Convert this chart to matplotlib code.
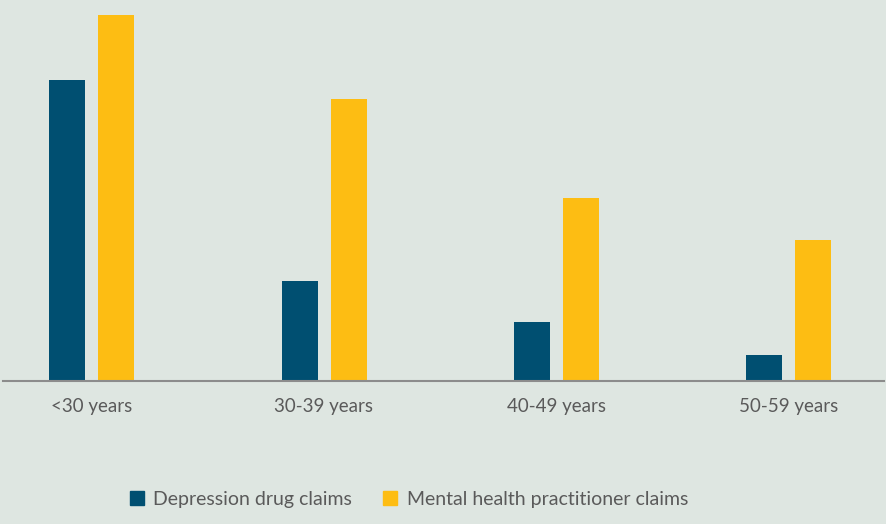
import matplotlib
matplotlib.use("Agg")
import matplotlib.pyplot as plt
import numpy as np
from matplotlib.patches import Patch

categories = ["<30 years", "30-39 years", "40-49 years", "50-59 years"]
depression = [301, 100, 59, 26]
mental_health = [366, 282, 183, 141]
series_names = ["Depression drug claims", "Mental health practitioner claims"]

bg = "#DEE6E1"
c_dep = "#004F71"
c_mh = "#FDBD13"
txt = "#5A5A5A"

plt.rcParams['font.family'] = ['Lato', 'DejaVu Sans']

fig = plt.figure(figsize=(8.87, 5.24), dpi=100, facecolor=bg)
ax = fig.add_axes([3/887, 1-381/524, 881/887, 381/524])
ax.set_facecolor(bg)

x = np.arange(len(categories))
w = 36/232.5
off = 24.5/232.5
ax.bar(x - off, depression, width=w, color=c_dep)
ax.bar(x + off, mental_health, width=w, color=c_mh)

ax.set_xlim(-88.5/232.5, 3 + 95/232.5)
ax.set_ylim(0, 381)
for s in ["top", "left", "right"]:
    ax.spines[s].set_visible(False)
ax.spines["bottom"].set_color("#8C8C8C")
ax.spines["bottom"].set_linewidth(1.5)
ax.set_yticks([])
ax.set_xticks(x)
ax.set_xticklabels(categories, fontsize=13.5, color=txt)
ax.tick_params(axis="x", length=0, pad=12)

handles = [Patch(color=c_dep), Patch(color=c_mh)]
fig.legend(handles, series_names, loc="center", bbox_to_anchor=(409/887, 1-499/524),
           ncol=2, frameon=False, fontsize=14, labelcolor=txt,
           handlelength=0.72, handleheight=0.72, handletextpad=0.5, columnspacing=1.6)

fig.savefig("out.png", dpi=100, facecolor=bg)
